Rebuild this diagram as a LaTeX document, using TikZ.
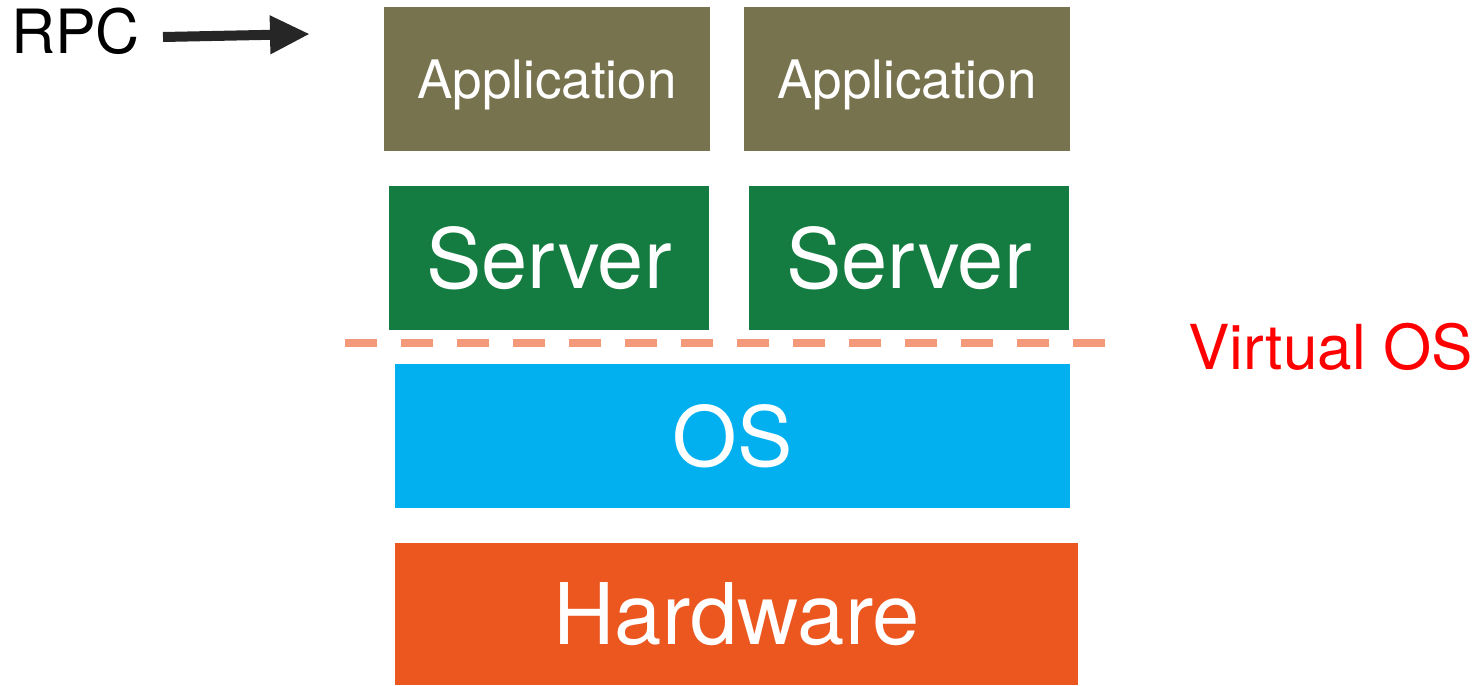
\documentclass[tikz,border=0pt]{standalone}
\usepackage{fontspec}
\setmainfont{TeX Gyre Heros}
\usetikzlibrary{arrows.meta}
\definecolor{appc}{HTML}{78734F}
\definecolor{srvc}{HTML}{147C40}
\definecolor{osc}{HTML}{03B0EF}
\definecolor{hwc}{HTML}{EC561F}
\definecolor{dashc}{HTML}{F4997A}
\definecolor{arrc}{HTML}{262626}
\tikzset{
  block/.style={inner sep=0pt, outer sep=0pt, text=white, text depth=0pt, align=center},
  apptext/.style={font=\fontsize{53}{53}\selectfont, text height=38pt},
  bigtext/.style={font=\fontsize{83}{83}\selectfont, text height=60pt},
  hwtext/.style={font=\fontsize{85}{85}\selectfont, text height=61pt},
}
\begin{document}
\begin{tikzpicture}[x=1pt,y=-1pt]
\useasboundingbox (0,0) rectangle (1477,685);
% applications
\node[block, apptext, fill=appc, minimum width=326pt, minimum height=144pt] (app1) at (547,79) {Application};
\node[block, apptext, fill=appc, minimum width=326pt, minimum height=144pt] (app2) at (907,79) {Application};
% servers
\node[block, bigtext, fill=srvc, minimum width=320pt, minimum height=144pt] (srv1) at (549,258) {Server};
\node[block, bigtext, fill=srvc, minimum width=320pt, minimum height=144pt] (srv2) at (909,258) {Server};
% OS
\node[block, bigtext, fill=osc, minimum width=675pt, minimum height=144pt] (os) at (732.5,436) {OS};
% hardware
\node[block, hwtext, fill=hwc, minimum width=683pt, minimum height=142pt] (hw) at (736.5,614) {Hardware};
% dashed line
\coordinate (d0) at (345,343);
\coordinate (d1) at (1105,343);
\draw[dashc, line width=8pt, dash pattern=on 32pt off 24pt] (d0) -- (d1);
\node[anchor=base west, inner sep=0pt, text=red, font=\fontsize{62}{62}\selectfont] (vos) at (1188,369) {Virtual OS};
% RPC
\node[anchor=base west, inner sep=0pt, font=\fontsize{61}{61}\selectfont] (rpc) at (11,53) {RPC};
\coordinate (r0) at (163,37);
\coordinate (r1) at (310,34);
\draw[arrc, line width=10pt, -{Triangle[length=40pt,width=36pt]}] (r0) -- (r1);
\end{tikzpicture}
\end{document}
